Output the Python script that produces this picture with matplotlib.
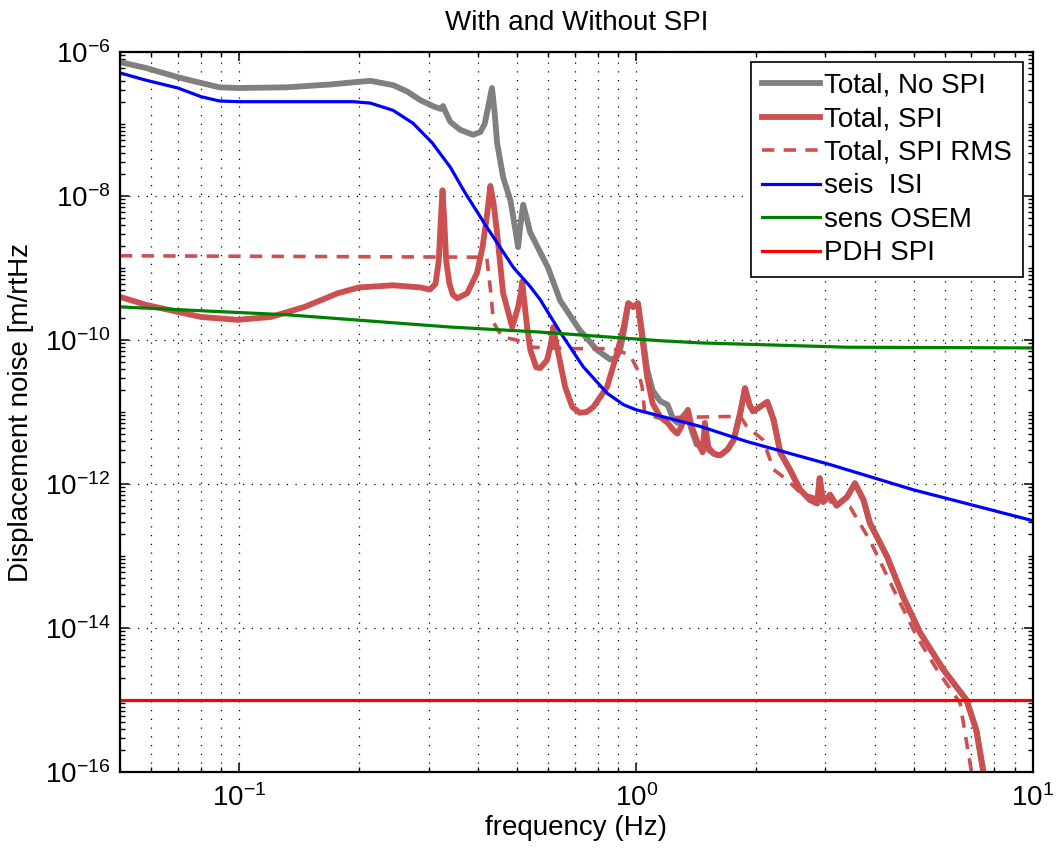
import numpy as np
import matplotlib
matplotlib.use('Agg')
import matplotlib.pyplot as plt
from matplotlib.ticker import LogLocator, LogFormatterSciNotation, NullFormatter

plt.rcParams['font.family'] = ['Liberation Sans', 'DejaVu Sans']
plt.rcParams['mathtext.fontset'] = 'custom'
plt.rcParams['mathtext.rm'] = 'Liberation Sans'
plt.rcParams['mathtext.default'] = 'regular'

# values, log10 of displacement noise [m/rtHz]
grey_f = [0.05, 0.058, 0.07, 0.08, 0.089, 0.099, 0.132, 0.17, 0.194, 0.214, 0.244,
          0.265, 0.286, 0.31, 0.322, 0.326, 0.33, 0.34, 0.36, 0.388, 0.405, 0.415,
          0.424, 0.433, 0.44, 0.446, 0.462, 0.482, 0.496, 0.504, 0.51, 0.519, 0.531,
          0.54, 0.6, 0.643, 0.72, 0.797, 0.86, 0.89, 0.91, 0.93, 0.955, 0.983, 1.01,
          1.035, 1.065, 1.1, 1.15, 1.2, 1.24, 1.27, 1.34, 1.38, 1.42, 1.5, 1.56, 1.6]
grey_v = [-6.14, -6.22, -6.35, -6.43, -6.49, -6.5, -6.49, -6.45, -6.42, -6.4, -6.46,
          -6.55, -6.67, -6.76, -6.79, -6.75, -6.82, -6.97, -7.08, -7.15, -7.11, -7.0,
          -6.75, -6.5, -6.85, -7.26, -7.74, -8.06, -8.47, -8.71, -8.43, -8.12, -8.33,
          -8.5, -9.0, -9.45, -9.86, -10.14, -10.27, -10.25, -10.15, -9.9, -9.49, -9.54, -9.49,
          -9.9, -10.4, -10.7, -10.85, -10.9, -11.1, -11.15, -11.0, -11.25, -11.45, -11.5, -11.57, -11.6]

red_f = [0.05, 0.058, 0.07, 0.08, 0.099, 0.12, 0.146, 0.177, 0.2, 0.244, 0.286, 0.302,
         0.312, 0.318, 0.322, 0.325, 0.328, 0.332, 0.338, 0.345, 0.354, 0.375, 0.397,
         0.41, 0.42, 0.429, 0.437, 0.446, 0.462, 0.487, 0.504, 0.512, 0.516, 0.522,
         0.531, 0.541, 0.56, 0.573, 0.596, 0.61, 0.618, 0.626, 0.636, 0.662, 0.69, 0.72,
         0.75, 0.78, 0.845, 0.895, 0.93, 0.955, 0.983, 1.01, 1.035, 1.065, 1.1, 1.15, 1.2,
         1.24, 1.27, 1.3, 1.35, 1.38, 1.42, 1.47, 1.49, 1.52, 1.57, 1.63, 1.7, 1.76, 1.83,
         1.88, 1.93, 1.97, 2.05, 2.14, 2.22, 2.31, 2.44, 2.59, 2.74, 2.86, 2.9, 2.96, 3.08,
         3.2, 3.4, 3.56, 3.74, 3.88, 4.29, 4.71, 5.2, 5.95, 6.8, 7.2, 7.5, 7.8]
red_v = [-9.40, -9.51, -9.61, -9.68, -9.72, -9.68, -9.54, -9.35, -9.27, -9.24, -9.27, -9.3,
         -9.22, -8.9, -8.3, -7.92, -8.3, -8.9, -9.21, -9.37, -9.42, -9.35, -9.07,
         -8.71, -8.3, -7.86, -8.1, -8.51, -9.35, -9.82, -9.54, -9.35, -9.19, -9.45,
         -9.82, -10.14, -10.38, -10.39, -10.28, -10.05, -9.82, -10.0, -10.18, -10.65, -10.93, -11.01,
         -11.0, -10.93, -10.65, -10.18, -9.82, -9.49, -9.54, -9.49, -9.96, -10.51, -10.88, -11.07, -11.15,
         -11.25, -11.3, -11.2, -10.97, -11.2, -11.39, -11.56, -11.15, -11.49, -11.58, -11.6, -11.52, -11.39, -11.01,
         -10.67, -10.9, -10.99, -10.93, -10.86, -11.11, -11.57, -11.8, -12.08, -12.22, -12.27, -11.92, -12.25, -12.15,
         -12.3, -12.18, -11.99, -12.22, -12.54, -13.01, -13.57, -14.07, -14.58, -15.0, -15.42, -16.0, -16.5]

rms_f = [0.05, 0.42, 0.43, 0.437, 0.46, 0.5, 0.54, 0.69, 0.875, 0.965, 1.01, 1.035,
         1.05, 1.13, 1.83, 1.9, 2.09, 2.22, 2.4, 2.59, 2.79, 3.46, 3.88, 4.55, 5.1,
         5.73, 6.55, 7.0, 7.2]
rms_v = [-8.83, -8.85, -9.34, -9.76, -9.96, -10.0, -10.1, -10.12, -10.12, -10.21, -10.42, -10.65,
         -11.0, -11.08, -11.06, -11.2, -11.39, -11.8, -11.94, -12.12, -12.18, -12.32, -12.78, -13.57, -14.12,
         -14.58, -15.04, -16.0, -16.4]

isi_f = [0.05, 0.058, 0.07, 0.08, 0.089, 0.1, 0.194, 0.214, 0.244, 0.274, 0.306, 0.34,
         0.37, 0.42, 0.49, 0.541, 0.573, 0.643, 0.735, 0.845, 0.93, 1.0, 1.45, 1.9, 3.08,
         4.99, 10.0]
isi_v = [-6.29, -6.39, -6.5, -6.62, -6.68, -6.69, -6.69, -6.71, -6.81, -6.99, -7.26, -7.6,
         -7.95, -8.43, -8.99, -9.26, -9.44, -9.89, -10.37, -10.74, -10.9, -10.97, -11.2, -11.41, -11.73,
         -12.08, -12.51]

osem_f = [0.05, 0.132, 0.34, 0.573, 1.15, 1.45, 3.4, 10.0]
osem_v = [-9.54, -9.65, -9.82, -9.89, -10.01, -10.04, -10.1, -10.11]

pdh_f = [0.05, 10.0]
pdh_v = [-15.0, -15.0]

# above ~1.6 Hz the no-SPI total sits under the SPI total
red_f_arr = np.array(red_f)
grey_f_all = np.concatenate([grey_f, red_f_arr[red_f_arr > 1.6]])
grey_v_all = np.concatenate([grey_v, np.array(red_v)[red_f_arr > 1.6]])

fig = plt.figure(figsize=(10.59, 8.57), dpi=100)
ax = fig.add_axes([0.1133, 0.0992, 0.8621, 0.8401])

ax.loglog(grey_f_all, 10.0 ** grey_v_all, color='#808080', lw=4.2, label='Total, No SPI')
ax.loglog(red_f, 10.0 ** np.array(red_v), color='#cc5050', lw=4.2, label='Total, SPI')
ax.loglog(rms_f, 10.0 ** np.array(rms_v), color='#cc5050', lw=2.6, dashes=(3.4, 2.6),
          label='Total, SPI RMS')
ax.loglog(isi_f, 10.0 ** np.array(isi_v), color='#0000ff', lw=2.3, label='seis  ISI')
ax.loglog(osem_f, 10.0 ** np.array(osem_v), color='#008000', lw=2.3, label='sens OSEM')
ax.loglog(pdh_f, 10.0 ** np.array(pdh_v), color='#ff0000', lw=2.3, label='PDH SPI')

ax.set_xlim(0.05, 10)
ax.set_ylim(1e-16, 1e-6)

ax.yaxis.set_major_locator(LogLocator(base=100, numticks=20))
ax.yaxis.set_major_formatter(LogFormatterSciNotation(base=10))
ax.yaxis.set_minor_locator(LogLocator(base=10, subs=np.arange(1, 10), numticks=50))
ax.yaxis.set_minor_formatter(NullFormatter())
ax.xaxis.set_minor_locator(LogLocator(base=10, subs=np.arange(2, 10), numticks=20))
ax.xaxis.set_minor_formatter(NullFormatter())

grid_kw = dict(color='k', linestyle=(0, (1, 6)), linewidth=0.9)
ax.grid(True, which='major', axis='both', **grid_kw)
ax.grid(True, which='minor', axis='x', **grid_kw)

ax.tick_params(which='both', direction='in', top=True, right=True, labelsize=20)
ax.tick_params(which='major', length=6.5, width=1.1)
ax.tick_params(which='minor', length=3.5, width=1.0)
ax.tick_params(axis='x', which='major', pad=9)
ax.tick_params(axis='y', which='major', pad=7)
for sp in ax.spines.values():
    sp.set_linewidth(1.6)

ax.set_title('With and Without SPI', fontsize=20, pad=16)
ax.set_xlabel('frequency (Hz)', fontsize=20, labelpad=2)
ax.set_ylabel('Displacement noise [m/rtHz', fontsize=20, labelpad=8)

leg = ax.legend(loc='upper right', fontsize=20, handlelength=2.1, handletextpad=0.15,
                labelspacing=0.27, borderpad=0.4, borderaxespad=0.35, fancybox=False,
                framealpha=1, edgecolor='k')
leg.get_frame().set_linewidth(1.2)

fig.savefig('out.png', dpi=100)
